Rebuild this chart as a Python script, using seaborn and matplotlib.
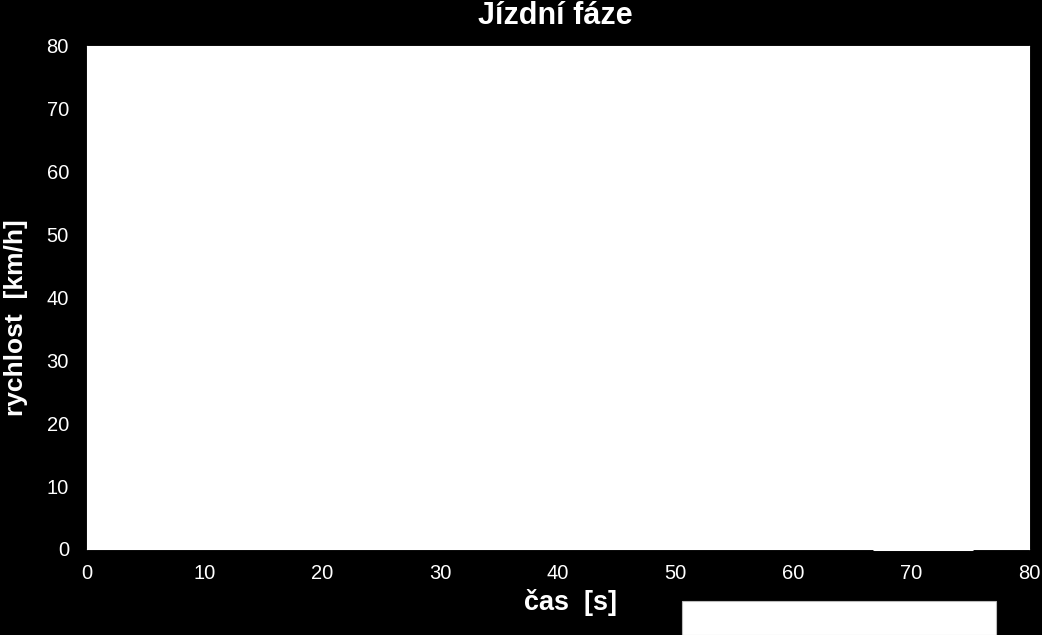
import matplotlib
matplotlib.use("Agg")
import matplotlib.pyplot as plt
from matplotlib.patches import Rectangle
import seaborn as sns
import pandas as pd

# data visible in the reference (white line on white plot, only the stop at v=0 shows)
time_s = [66.8, 75.2]
speed_kmh = [0, 0]
x_ticks = [0, 10, 20, 30, 40, 50, 60, 70, 80]
y_ticks = [0, 10, 20, 30, 40, 50, 60, 70, 80]

sns.set_style("white")
plt.rcParams["font.family"] = ["Liberation Sans", "DejaVu Sans"]

W, H = 1042, 635
fig = plt.figure(figsize=(W / 100, H / 100), dpi=100, facecolor="black")
# plot area in pixel coords: left 87, right 1029, top 46, bottom 549
ax = fig.add_axes([87 / W, 1 - 549 / H, (1029 - 87) / W, (549 - 46) / H])
ax.set_facecolor("white")

df = pd.DataFrame({"cas": time_s, "rychlost": speed_kmh})
sns.lineplot(data=df, x="cas", y="rychlost", ax=ax, color="white", linewidth=2.2)
for line in ax.lines:
    line.set_clip_on(False)

ax.set_xlim(0, 80)
ax.set_ylim(0, 80)
ax.set_xticks(x_ticks)
ax.set_yticks(y_ticks)
ax.tick_params(axis="both", colors="white", labelcolor="white", labelsize=14.5,
               length=5, width=1, direction="out", pad=8)
ax.tick_params(axis="x", pad=6)
for sp in ax.spines.values():
    sp.set_color("white")

ax.set_xlabel("čas  [s]", color="white", fontsize=19.5, fontweight="bold")
ax.set_ylabel("rychlost  [km/h]", color="white", fontsize=19, fontweight="bold")
ax.xaxis.set_label_coords((571 - 87) / 942, -0.08)
ax.yaxis.set_label_coords(-0.063, (549 - 318) / 503)
# title baseline ~24 px from the top of the image
ax.set_title("Jízdní fáze", color="white", fontsize=22, fontweight="bold",
             pad=0, y=1 + 22 / 503, x=(555 - 87) / 942)

# white box at the bottom edge
fig.patches.append(Rectangle((682 / W, 0), (996 - 682) / W, (635 - 601) / H,
                             transform=fig.transFigure, facecolor="white",
                             edgecolor="#bbbbbb", linewidth=0.8, zorder=3))

fig.savefig("out.png", dpi=100, facecolor="black")
